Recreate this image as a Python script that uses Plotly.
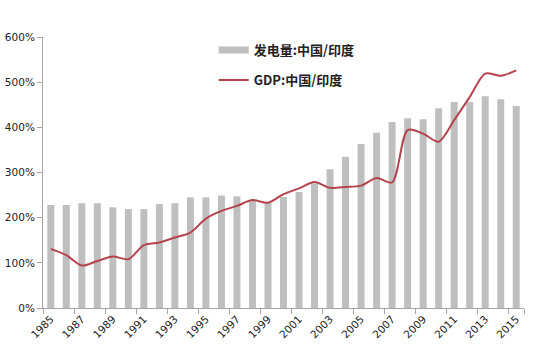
import plotly.graph_objects as go

years = list(range(1985, 2016))
power_ratio = [2.28, 2.28, 2.32, 2.32, 2.23, 2.19, 2.19, 2.30, 2.32, 2.45,
               2.45, 2.49, 2.47, 2.39, 2.33, 2.46, 2.57, 2.76, 3.07, 3.35,
               3.63, 3.88, 4.12, 4.20, 4.18, 4.42, 4.56, 4.56, 4.69, 4.62, 4.47]
gdp_ratio = [1.31, 1.17, 0.94, 1.04, 1.14, 1.08, 1.39, 1.45, 1.56, 1.67,
             1.98, 2.15, 2.26, 2.39, 2.33, 2.52, 2.65, 2.79, 2.66, 2.68,
             2.71, 2.88, 2.78, 3.94, 3.86, 3.68, 4.16, 4.67, 5.19, 5.14, 5.26]
y_ticks = [0, 1, 2, 3, 4, 5, 6]
label_years = years[::2]

font = "DejaVu Sans, Verdana, sans-serif"
cjk = "Noto Sans CJK SC, DejaVu Sans, sans-serif"
bar_color = "#bfbfbf"

fig = go.Figure()
fig.add_trace(go.Bar(x=years, y=power_ratio, name="<b>发电量:中国/印度</b>",
                     marker=dict(color=bar_color, line=dict(width=0)),
                     showlegend=False))
# legend entry styled like the wide grey swatch of the original
fig.add_trace(go.Scatter(x=[None], y=[None], name="<b>发电量:中国/印度</b>",
                         mode="lines", line=dict(color=bar_color, width=7),
                         legendgroup="a"))
fig.add_trace(go.Scatter(x=years, y=gdp_ratio, name="<b>GDP:中国/印度</b>",
                         mode="lines", line=dict(color="#b5434d", width=2, shape="spline", smoothing=0.8),
                         legendgroup="b"))

fig.update_layout(
    width=550, height=358,
    margin=dict(l=43, r=26, t=37, b=50),
    paper_bgcolor="white", plot_bgcolor="white",
    bargap=0.55,
    showlegend=True,
    legend=dict(x=0.355, y=1.007, xanchor="left", yanchor="top",
                font=dict(family=cjk, size=13, color="#222"),
                tracegroupgap=10, traceorder="grouped",
                itemwidth=30,
                bgcolor="rgba(0,0,0,0)"),
    font=dict(family=font, size=10, color="#333"),
)
fig.update_xaxes(
    range=[1984.5, 2015.5], automargin=False,
    tickmode="array", tickvals=label_years, ticktext=[str(y) for y in label_years],
    tickangle=-45, ticks="", showgrid=False,
    showline=True, linecolor="#a6a6a6", linewidth=1,
    tickfont=dict(family=font, size=10.5, color="#222"),
    minor=dict(tickmode="array", tickvals=[y - 0.5 for y in label_years] + [2015.5],
               ticks="outside", ticklen=5, tickcolor="#a6a6a6", showgrid=False),
)
fig.update_yaxes(
    range=[0, 6], automargin=False, tickmode="array", tickvals=y_ticks,
    ticktext=[f"{v*100}%" for v in y_ticks],
    ticks="outside", ticklen=5, tickcolor="#a6a6a6",
    showgrid=False, zeroline=False,
    showline=True, linecolor="#a6a6a6", linewidth=1,
    tickfont=dict(family=font, size=10.5, color="#222"),
)

fig.write_html("out.html", config={"displayModeBar": False},
               post_script="document.body.style.margin='0';")
